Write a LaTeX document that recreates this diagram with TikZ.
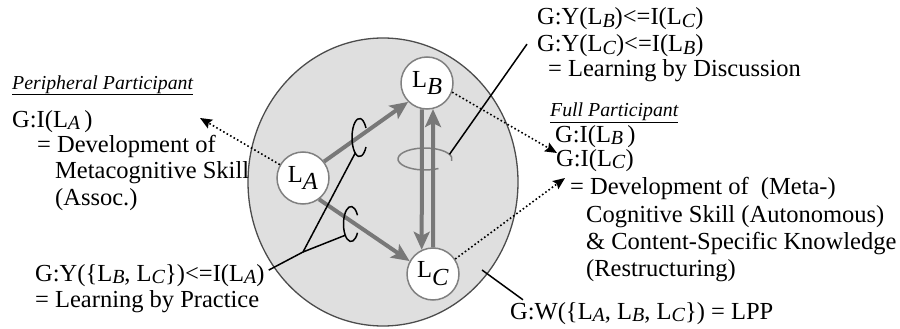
\documentclass[tikz,border=0pt]{standalone}
\usepackage{fontspec}
\setmainfont{Liberation Serif}
\usetikzlibrary{arrows.meta,calc}

\definecolor{groupfill}{gray}{0.875}
\definecolor{groupline}{gray}{0.3}
\definecolor{flowgray}{gray}{0.47}
\definecolor{ringgray}{gray}{0.5}

% subscripts: in running text and inside the learner circles
\newcommand{\sbs}[1]{\raisebox{-0.1em}{\fontsize{20}{20}\selectfont\textit{#1}}}
\newcommand{\csub}[1]{\raisebox{-0.32em}{\textit{#1}}}

\tikzset{
  learner/.style={circle, draw=ringgray, fill=white, line width=1.5pt, minimum size=52pt, inner sep=0pt, font=\fontsize{24.5}{26}\selectfont},
  flow/.style={draw=flowgray, line width=4pt, -{Stealth[length=18pt,width=16pt,inset=4pt]}},
  ring/.style={draw=ringgray, line width=1.5pt},
  pointer/.style={draw=black, line width=1.5pt},
  dotarrow/.style={draw=black, line width=1.6pt, dash pattern=on 1.6pt off 2.4pt, -{Stealth[length=12pt,width=10pt,inset=2pt]}},
  txt/.style={anchor=base west, inner sep=0pt, font=\fontsize{24.5}{26}\selectfont},
  head/.style={anchor=base west, inner sep=0pt, font=\fontsize{19.8}{21}\selectfont\itshape},
}

\begin{document}
\begin{tikzpicture}[x=1pt,y=-1pt]
\useasboundingbox (0,0) rectangle (900,329);

% the group
\draw[draw=groupline, fill=groupfill, line width=1.3pt] (383,182) ellipse [x radius=135, y radius=144];

\node[learner] (LA) at (303,178) {L\csub{A}};
\node[learner] (LB) at (427,83) {L\csub{B}};
\node[learner] (LC) at (433,274) {L\csub{C}};

\coordinate (upC) at (359.5,137.5);
\coordinate (lowC) at (351,224);
\coordinate (discloop) at (425,159);
\coordinate (pj) at (303,252);
\coordinate (wstart) at (482,270);
\coordinate (ppTip) at (200,118);
\coordinate (fpTipB) at (557,153);
\coordinate (fpTipC) at (565,178);

% learning by practice
\draw[flow] (LA.38) -- (LB.225);
\draw[flow] (LA.307) -- (LC.151);
\draw[pointer] ([shift={(30:7.5 and 19)}]upC) arc[start angle=30, end angle=330, x radius=7.5, y radius=19];
\draw[pointer] ([shift={(30:7.5 and 17.5)}]lowC) arc[start angle=30, end angle=330, x radius=7.5, y radius=17.5];

% learning by discussion
\draw[ring] ([shift={(60:27 and 11)}]discloop) arc[start angle=60, end angle=370, x radius=27, y radius=11];
\draw[flow] (LB.259) -- (LC.115);
\draw[flow] (LC.90) -- (LB.283);

% texts
\node[head] (ppHead) at (12,89) {\underline{Peripheral Participant}};
\node[txt] (ppI) at (12,127) {G:I(L\sbs{A}\,)};
\node[txt] (ppDev1) at (37,152) {= Development of};
\node[txt] (ppDev2) at (55,178) {Metacognitive Skill};
\node[txt] (ppDev3) at (55,205) {(Assoc.)};
\node[txt] (prY) at (35,281) {G:Y(\{L\sbs{B}, L\sbs{C}\})<=I(L\sbs{A})};
\node[txt] (prEq) at (35,307) {= Learning by Practice};

\node[txt] (dsY1) at (537,25) {G:Y(L\sbs{B})<=I(L\sbs{C})};
\node[txt] (dsY2) at (537,52) {G:Y(L\sbs{C})<=I(L\sbs{B})};
\node[txt] (dsEq) at (548,77) {= Learning by Discussion};

\node[head] (fpHead) at (550,117) {\underline{Full Participant}};
\node[txt] (fpIB) at (555,142) {G:I(L\sbs{B}\,)};
\node[txt] (fpIC) at (556,166) {G:I(L\sbs{C})};
\node[txt] (fpDev1) at (570,194) {= Development of~ (Meta-)};
\node[txt] (fpDev2) at (586,222) {Cognitive Skill (Autonomous)};
\node[txt] (fpDev3) at (586,249) {\& Content-Specific Knowledge};
\node[txt] (fpDev4) at (586,276) {(Restructuring)};

\node[txt] (lpp) at (510,319) {G:W(\{L\sbs{A}, L\sbs{B}, L\sbs{C}\}) = LPP};

% pointers
\draw[pointer] ([xshift=4pt,yshift=5pt]prY.east) -- (pj) -- ([shift={(125:7.5 and 19)}]upC);
\draw[pointer] (pj) -- ([shift={(140:7.5 and 17.5)}]lowC);
\draw[pointer] ([shift={(-25:27 and 11)}]discloop) -- ([xshift=-10pt,yshift=2pt]dsY2.west);
\draw[pointer] (wstart) -- ([xshift=13pt,yshift=2pt]lpp.north west);

% participation
\draw[dotarrow] (LA.150) -- (ppTip);
\draw[dotarrow] (LB.340) -- (fpTipB);
\draw[dotarrow] (LC.34) -- (fpTipC);

\end{tikzpicture}
\end{document}
